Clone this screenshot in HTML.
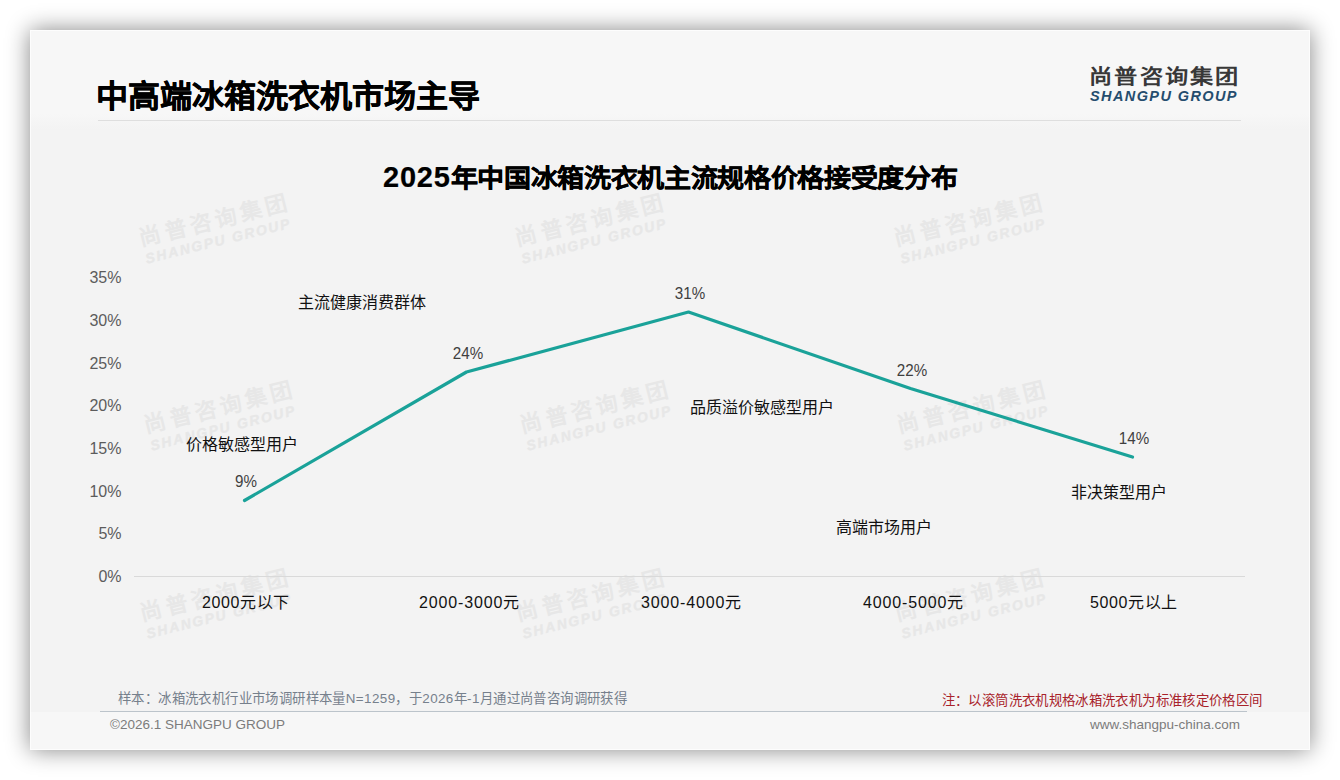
<!DOCTYPE html>
<html lang="zh-CN"><head><meta charset="utf-8">
<style>
html,body{margin:0;padding:0;width:1340px;height:780px;overflow:hidden;background:#fff;}
body{font-family:"Liberation Sans",sans-serif;position:relative;}
.card{position:absolute;left:30px;top:30px;width:1280px;height:720px;background:#f3f3f3;box-shadow:0 0 22px rgba(0,0,0,0.48);overflow:hidden;}
.hdr{position:absolute;left:0;top:0;width:1280px;height:100px;background:linear-gradient(#f7f7f7 0,#f7f7f7 84px,#f5f5f5 91px,#f3f3f3 100px);}
.ftr{position:absolute;left:0;top:682px;width:1280px;height:38px;background:#f7f7f7;}
.abs{position:absolute;white-space:nowrap;line-height:1.2;}
.title{left:66px;top:47px;font-size:32px;font-weight:bold;color:#000;-webkit-text-stroke:0.5px #000;transform:scaleY(.95);transform-origin:0 64%;}
.hline{left:68px;top:90px;width:1143px;height:1px;background:#dedede;}
.logo1{left:1059px;top:35px;font-size:20px;font-weight:bold;color:#383838;letter-spacing:1.8px;transform:scaleX(1.16);transform-origin:0 0;}
.logo2{left:1060px;top:57.5px;font-size:14.5px;font-weight:bold;font-style:italic;color:#254d6e;letter-spacing:1.4px;}
.ctitle{left:353px;top:130px;font-size:27px;font-weight:bold;color:#000;-webkit-text-stroke:0.5px #000;}
.ylab{font-size:16px;color:#5c5c5c;text-align:right;width:70px;left:21.5px;margin-top:2px;}
.xlab{font-size:16px;color:#111;text-align:center;width:200px;letter-spacing:0.6px;}
.dlab{font-size:16.5px;color:#3f3f3f;text-align:center;width:60px;transform:scaleX(.92);}
.ann{font-size:16px;color:#111;text-align:center;width:240px;margin-top:1px;}
.note1{left:88px;top:660.5px;font-size:13.4px;color:#76808c;letter-spacing:0.4px;}
.note2{right:47.6px;top:663px;font-size:13.4px;color:#a8222a;letter-spacing:0.36px;}
.fline{left:70px;top:681px;width:1147px;height:1px;background:#bcc4cb;}
.copy{left:80px;top:687px;font-size:13.5px;color:#7c7c7c;}
.www{right:70px;top:687px;font-size:13.5px;color:#7c7c7c;}
.wm{position:absolute;transform:rotate(-14deg);transform-origin:0 0;color:#e7e7e7;white-space:nowrap;}
.wm .a{font-size:22px;font-weight:bold;letter-spacing:4px;line-height:22px;}
.wm .b{font-size:14px;font-weight:bold;font-style:italic;letter-spacing:1.9px;line-height:14px;-webkit-text-stroke:0.3px #e7e7e7;margin-top:2px;margin-left:1px;}
</style></head>
<body>
<div class="card">
  <div class="hdr"></div>
  <div class="ftr"></div>
  <!-- watermarks -->
  <div class="wm" style="left:107px;top:199px"><div class="a">尚普咨询集团</div><div class="b">SHANGPU GROUP</div></div>
  <div class="wm" style="left:483px;top:199px"><div class="a">尚普咨询集团</div><div class="b">SHANGPU GROUP</div></div>
  <div class="wm" style="left:862px;top:199px"><div class="a">尚普咨询集团</div><div class="b">SHANGPU GROUP</div></div>
  <div class="wm" style="left:112px;top:386px"><div class="a">尚普咨询集团</div><div class="b">SHANGPU GROUP</div></div>
  <div class="wm" style="left:488px;top:386px"><div class="a">尚普咨询集团</div><div class="b">SHANGPU GROUP</div></div>
  <div class="wm" style="left:865px;top:386px"><div class="a">尚普咨询集团</div><div class="b">SHANGPU GROUP</div></div>
  <div class="wm" style="left:108px;top:574px"><div class="a">尚普咨询集团</div><div class="b">SHANGPU GROUP</div></div>
  <div class="wm" style="left:484px;top:574px"><div class="a">尚普咨询集团</div><div class="b">SHANGPU GROUP</div></div>
  <div class="wm" style="left:863px;top:574px"><div class="a">尚普咨询集团</div><div class="b">SHANGPU GROUP</div></div>

  <div class="abs title">中高端冰箱洗衣机市场主导</div>
  <div class="abs hline"></div>
  <div class="abs logo1">尚普咨询集团</div>
  <div class="abs logo2">SHANGPU GROUP</div>
  <div class="abs ctitle"><span style="font-size:29px;-webkit-text-stroke:0.2px #000;letter-spacing:0.8px">2025</span><span style="display:inline-block;transform:scaleY(.92) translateY(1px);letter-spacing:-0.33px">年中国冰箱洗衣机主流规格价格接受度分布</span></div>

  <div class="abs ylab" style="top:236px">35%</div>
  <div class="abs ylab" style="top:279px">30%</div>
  <div class="abs ylab" style="top:322px">25%</div>
  <div class="abs ylab" style="top:364px">20%</div>
  <div class="abs ylab" style="top:407px">15%</div>
  <div class="abs ylab" style="top:450px">10%</div>
  <div class="abs ylab" style="top:492px">5%</div>
  <div class="abs ylab" style="top:535px">0%</div>

  <svg class="abs" style="left:0;top:0" width="1280" height="720">
    <line x1="104" y1="546.5" x2="1215" y2="546.5" stroke="#d9d9d9" stroke-width="1"/>
    <polyline fill="none" stroke="#1aa299" stroke-width="3.2" stroke-linejoin="round" stroke-linecap="round"
      points="214.5,470.5 436.5,342 658.5,282 880.5,358.5 1102.5,427"/>
  </svg>

  <div class="abs dlab" style="left:186px;top:442px">9%</div>
  <div class="abs dlab" style="left:408px;top:314px">24%</div>
  <div class="abs dlab" style="left:630px;top:254px">31%</div>
  <div class="abs dlab" style="left:852px;top:331px">22%</div>
  <div class="abs dlab" style="left:1074px;top:399px">14%</div>

  <div class="abs ann" style="left:212px;top:262px">主流健康消费群体</div>
  <div class="abs ann" style="left:92px;top:404px">价格敏感型用户</div>
  <div class="abs ann" style="left:612px;top:367px">品质溢价敏感型用户</div>
  <div class="abs ann" style="left:734px;top:487px">高端市场用户</div>
  <div class="abs ann" style="left:969px;top:452px">非决策型用户</div>

  <div class="abs xlab" style="left:116px;top:563px">2000元以下</div>
  <div class="abs xlab" style="left:339.5px;top:563px;letter-spacing:0.85px">2000-3000元</div>
  <div class="abs xlab" style="left:561.5px;top:563px;letter-spacing:0.85px">3000-4000元</div>
  <div class="abs xlab" style="left:783.5px;top:563px;letter-spacing:0.85px">4000-5000元</div>
  <div class="abs xlab" style="left:1004px;top:563px">5000元以上</div>

  <div class="abs note1">样本：冰箱洗衣机行业市场调研样本量N=1259，于2026年-1月通过尚普咨询调研获得</div>
  <div class="abs note2">注：以滚筒洗衣机规格冰箱洗衣机为标准核定价格区间</div>
  <div class="abs fline"></div>
  <div style="position:absolute;left:0;top:0;width:1278px;height:718px;border:1px solid rgba(255,255,255,0.7);"></div>
  <div class="abs copy">©2026.1 SHANGPU GROUP</div>
  <div class="abs www">www.shangpu-china.com</div>
</div>
</body></html>
